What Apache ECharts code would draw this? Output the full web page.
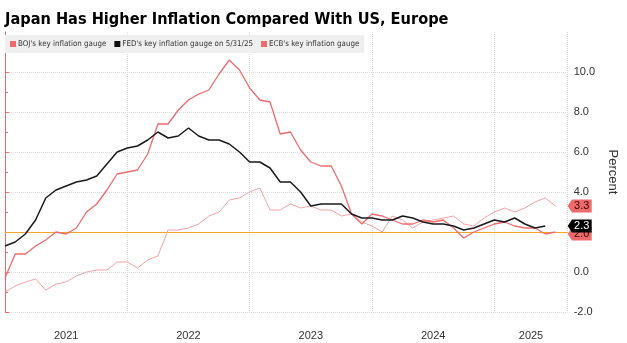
<!DOCTYPE html>
<html><head><meta charset="utf-8">
<script src="https://cdn.jsdelivr.net/npm/echarts@6/dist/echarts.min.js"></script>
<style>html,body{margin:0;padding:0;background:#fff}#c{width:627px;height:343px}</style>
</head><body><div id="c"></div>
<script>
// Monthly observations, Dec 2020 .. Jun 2025 (index 0 = Dec 2020)
const months = [];
(function(){ const names=['Jan','Feb','Mar','Apr','May','Jun','Jul','Aug','Sep','Oct','Nov','Dec'];
  for (let i=0;i<55;i++){ const m=(11+i)%12, y=2020+Math.floor((11+i)/12); months.push(names[m]+' '+y); } })();

const bojValues = [-1.0,
  -0.7,-0.5,-0.35,-0.9,-0.6,-0.5,-0.2,0.0,0.1,0.1,0.5,0.5,
  0.2,0.6,0.8,2.1,2.1,2.2,2.4,2.8,3.0,3.6,3.7,4.0,
  4.2,3.1,3.1,3.4,3.2,3.3,3.1,3.1,2.8,2.9,2.5,2.3,
  2.0,2.8,2.6,2.2,2.5,2.6,2.7,2.8,2.4,2.3,2.7,3.0,
  3.2,3.0,3.2,3.5,3.7,3.3];
const fedValues = [1.3,
  1.5,1.9,2.6,3.7,4.1,4.3,4.5,4.6,4.8,5.4,6.0,6.2,
  6.3,6.6,7.0,6.7,6.8,7.2,6.8,6.6,6.6,6.4,6.0,5.5,
  5.5,5.2,4.5,4.5,4.0,3.3,3.4,3.4,3.4,2.9,2.7,2.7,
  2.6,2.6,2.8,2.7,2.5,2.4,2.4,2.3,2.1,2.2,2.4,2.6,
  2.5,2.7,2.4,2.2,2.3];
const ecbValues = [-0.3,
  0.9,0.9,1.3,1.6,2.0,1.9,2.2,3.0,3.4,4.1,4.9,5.0,
  5.1,5.9,7.4,7.4,8.1,8.6,8.9,9.1,9.9,10.6,10.1,9.2,
  8.6,8.5,6.9,7.0,6.1,5.5,5.3,5.3,4.3,2.9,2.4,2.9,
  2.8,2.6,2.4,2.4,2.6,2.5,2.6,2.2,1.7,2.0,2.2,2.4,
  2.5,2.3,2.2,2.2,1.9,2.0];
const seriesNames = ["BOJ's key inflation gauge", "FED's key inflation gauge on 5/31/25", "ECB's key inflation gauge"];
const yearLabels = ['2021','2022','2023','2024','2025'];
const yearLabelPositions = [6, 18, 30, 42, 51.6];
const yTickValues = [-2, 0, 2, 4, 6, 8, 10];
const targetRate = 2.0;
const xMax = 55.2;

const toPairs = arr => arr.map((v,i)=>[i,v]);
const tagPath = 'path://M0,6L5,0L28,0L28,12L5,12Z';
function tag(values, bg, fg, z, dy){
  const last = values[values.length-1];
  return { symbol: tagPath, symbolSize:[24,13], symbolKeepAspect:false, symbolOffset:[12,dy||0], z:z, silent:true,
    itemStyle:{color:bg},
    label:{show:true, color:fg, fontSize:11, fontFamily:'Liberation Sans, Arial, sans-serif', offset:[2,0],
      formatter: ()=> last.toFixed(1)},
    data:[{coord:[xMax,last], value:last}] };
}

const chart = echarts.init(document.getElementById('c'), null, {renderer:'canvas'});
const narrow = "'Liberation Sans Narrow','DejaVu Sans Condensed','Arial Narrow',sans-serif";
chart.setOption({
  animation:false,
  backgroundColor:'#fff',
  title:{ text:'Japan Has Higher Inflation Compared With US, Europe', left:5, top:12, padding:0,
    textStyle:{fontSize:16.2, fontWeight:'bold', color:'#000', fontFamily:narrow}},
  legend:{ left:5, top:35, padding:[5,5,5,5], backgroundColor:'#efefef', itemWidth:6, itemHeight:6, itemGap:8,
    icon:'rect', textStyle:{fontSize:7.9, color:'#333', fontFamily:narrow, padding:[0,0,0,-3]},
    data:seriesNames },
  grid:{ left:5, right:48, top:32, height:280 },
  xAxis:{ type:'value', min:0, max:xMax, interval:12,
    axisLine:{show:false}, axisTick:{show:false},
    splitLine:{show:true, lineStyle:{color:'#dcdcdc', type:'dotted', width:1}},
    axisLabel:{ customValues:yearLabelPositions, margin:18, fontSize:11, color:'#333',
      fontFamily:'Liberation Sans, Arial, sans-serif',
      formatter:v=> yearLabels[Math.min(yearLabels.length-1, Math.floor(v/12))] } },
  yAxis:{ type:'value', position:'right', min:-2, max:12, interval:2,
    name:'Percent', nameLocation:'middle', nameRotate:-90, nameGap:34,
    nameTextStyle:{fontSize:13, color:'#333', fontFamily:'Liberation Sans, Arial, sans-serif'},
    axisLine:{show:true, lineStyle:{color:'#ec6a6c', width:1}},
    axisTick:{show:true, length:4, customValues:yTickValues, lineStyle:{color:'#ec6a6c'}},
    minorTick:{show:true, splitNumber:2, length:3, lineStyle:{color:'#ec6a6c'}},
    axisLabel:{ customValues:yTickValues, margin:6, fontSize:11, color:'#333', fontFamily:'Liberation Sans, Arial, sans-serif',
      formatter:v=>v.toFixed(1) },
    splitLine:{show:true, lineStyle:{color:['#dcdcdc','#dcdcdc','#dcdcdc','#dcdcdc','#dcdcdc','#dcdcdc','#dcdcdc','rgba(0,0,0,0)'], type:'dotted'}} },
  series:[
    { name:seriesNames[0], type:'line', data:toPairs(bojValues), showSymbol:false, symbol:'none', z:2,
      itemStyle:{color:'#ef6b6b'}, lineStyle:{color:'#f4a3a3', width:1},
      markPoint: tag(bojValues, '#ef6b6b', '#3a0000', 6) },
    { name:seriesNames[1], type:'line', data:toPairs(fedValues), showSymbol:false, symbol:'none', z:4,
      itemStyle:{color:'#111'}, lineStyle:{color:'#1a1a1a', width:1.5},
      markPoint: tag(fedValues, '#000', '#fff', 8) },
    { name:seriesNames[2], type:'line', data:toPairs(ecbValues), showSymbol:false, symbol:'none', z:3,
      itemStyle:{color:'#ef6b6b'}, lineStyle:{color:'#ef6b6b', width:1.3},
      markPoint: tag(ecbValues, '#ef6b6b', '#3a0000', 7, 2),
      markLine:{ silent:true, symbol:'none', label:{show:false}, z:2,
        lineStyle:{color:'#f5a623', width:1.2, type:'solid'}, data:[{yAxis:targetRate}] } }
  ]
});
</script></body></html>
